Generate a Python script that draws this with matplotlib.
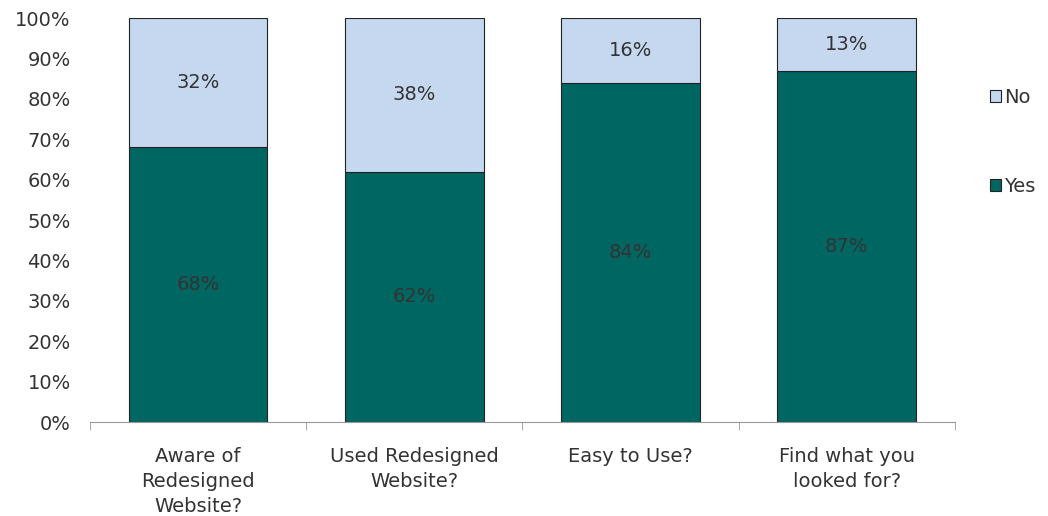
import matplotlib.pyplot as plt
import numpy as np

# survey answers (percent)
categories = ['Aware of\nRedesigned\nWebsite?', 'Used Redesigned\nWebsite?', 'Easy to Use?', 'Find what you\nlooked for?']
yes_vals = [68, 62, 84, 87]
no_vals = [32, 38, 16, 13]
yticks = [0, 10, 20, 30, 40, 50, 60, 70, 80, 90, 100]

yes_col = '#006662'
no_col = '#C6D8F0'
txt_col = '#333333'

fig = plt.figure(figsize=(10.48, 5.16), dpi=100)
ax = fig.add_axes([0.086, 0.182, 0.825, 0.783])

x = np.arange(len(categories))
b_yes = ax.bar(x, yes_vals, width=0.64, color=yes_col, edgecolor='#222222', linewidth=0.8, label='Yes')
b_no = ax.bar(x, no_vals, width=0.64, bottom=yes_vals, color=no_col, edgecolor='#222222', linewidth=0.8, label='No')

# value labels in the middle of each segment
for i in range(len(categories)):
    ax.text(x[i], yes_vals[i] / 2, f'{yes_vals[i]}%', ha='center', va='center', fontsize=14, color=txt_col)
    ax.text(x[i], yes_vals[i] + no_vals[i] / 2, f'{no_vals[i]}%', ha='center', va='center', fontsize=14, color=txt_col)

ax.set_xlim(-0.5, len(categories) - 0.5)
ax.set_ylim(0, 100)
ax.set_yticks(yticks)
ax.set_yticklabels([f'{t}%' for t in yticks], fontsize=14, color=txt_col)
ax.tick_params(axis='y', length=0, pad=14)

ax.set_xticks(x)
ax.set_xticklabels(categories, fontsize=14, color=txt_col, linespacing=1.4)
ax.tick_params(axis='x', length=0, pad=18)
# boundary tick marks on the category axis
ax.set_xticks(np.arange(-0.5, len(categories)), minor=True)
ax.tick_params(axis='x', which='minor', length=6, color='#999999', direction='out')

for s in ['top', 'right', 'left']:
    ax.spines[s].set_visible(False)
ax.spines['bottom'].set_color('#999999')

ax.legend([b_no, b_yes], ['No', 'Yes'], loc='upper left', bbox_to_anchor=(1.02, 0.87),
          frameon=False, fontsize=14, labelspacing=3.6, handlelength=0.6, handleheight=0.6,
          handletextpad=0.15, labelcolor=txt_col)

fig.savefig('out.png', dpi=100)
